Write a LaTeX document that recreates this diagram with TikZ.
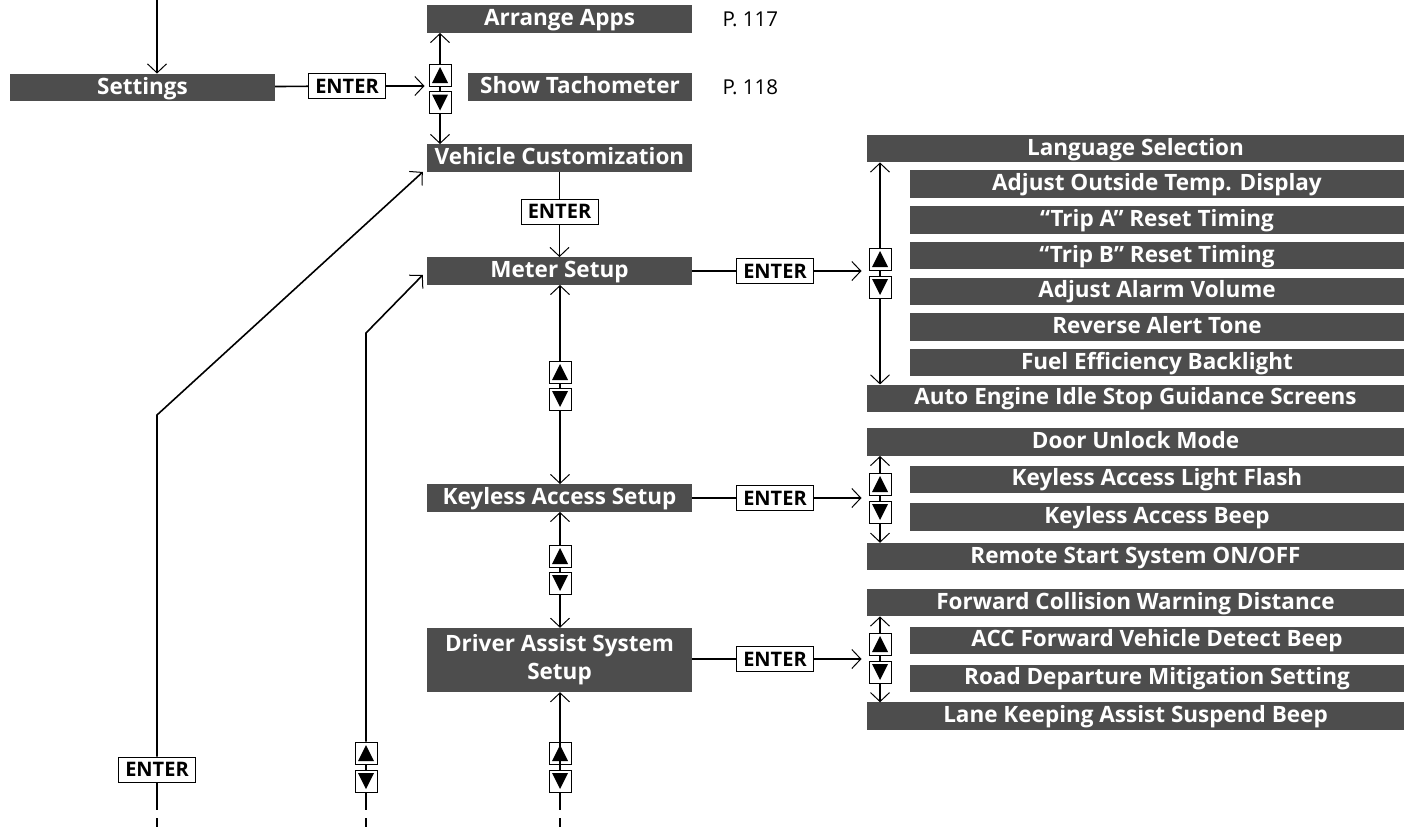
\documentclass[tikz,border=0pt]{standalone}
\usepackage{fontspec}
\setmainfont{Open Sans}
\usetikzlibrary{arrows.meta,positioning,calc}
\definecolor{panel}{HTML}{4D4D4D}
\tikzset{
  >={Straight Barb[length=9pt,width=19pt,line width=1pt]},
  link/.style={line width=1.6pt},
  flow/.style={->,line width=1.6pt},
  menu/.style={fill=panel,text=white,inner sep=0pt,minimum height=27.5pt,
    font=\fontsize{22.5}{28}\selectfont\bfseries},
  row/.style={menu,text height=17.5pt,text depth=4.5pt},
  main/.style={row,minimum width=265pt},
  wide/.style={row,minimum width=537pt},
  item/.style={row,minimum width=494pt},
  enterkey/.style={draw,line width=1pt,fill=white,inner sep=0pt,
    minimum width=77pt,minimum height=25pt,font=\fontsize{20}{22}\selectfont\bfseries},
  keybox/.style={draw,line width=1pt,fill=white,minimum size=22pt,inner sep=0pt},
  upkey/.style={keybox,path picture={
    \fill[black] ([shift={(3pt,3pt)}]path picture bounding box.south west)
      -- ([shift={(-3pt,3pt)}]path picture bounding box.south east)
      -- ([shift={(0pt,-3pt)}]path picture bounding box.north) -- cycle;}},
  downkey/.style={keybox,path picture={
    \fill[black] ([shift={(3pt,-3pt)}]path picture bounding box.north west)
      -- ([shift={(-3pt,-3pt)}]path picture bounding box.north east)
      -- ([shift={(0pt,3pt)}]path picture bounding box.south) -- cycle;}},
  pageref/.style={anchor=west,font=\fontsize{20.5}{24}\selectfont}
}

\begin{document}
\begin{tikzpicture}[x=1pt,y=-1pt]
  \useasboundingbox (0,0) rectangle (1411,827);

  % top level
  \node[row,minimum width=265pt] (settings) at (142.5,87.5) {Settings};
  \node[enterkey] (ent1) at (347,86) {ENTER};
  \node[main] (arrange) at (559.5,19) {Arrange Apps};
  \node[row,minimum width=224pt] (tacho) at (580,87) {Show Tachometer};
  \node[pageref] (p117) at (719,19) {P. 117};
  \node[pageref] (p118) at (719,87) {P. 118};
  \node[upkey] (up1) at (440,75) {};
  \node[downkey] (dn1) at (440,102.5) {};
  \node[main] (vehicle) at (559.5,158) {Vehicle Customization};
  \node[enterkey] (ent2) at (559.5,211.5) {ENTER};

  % meter setup
  \node[main] (meter) at (559.5,271) {Meter Setup};
  \node[enterkey] (ent3) at (775,271) {ENTER};
  \node[upkey] (up2) at (880,259) {};
  \node[downkey] (dn2) at (880,287) {};
  \node[wide] (lang) at (1135.5,148.5) {Language Selection};
  \begin{scope}[node distance=7.8pt]
    \node[item,below=of lang.south east,anchor=north east] (temp) {Adjust Outside Temp. Display};
    \node[item,below=of temp] (tripa) {“Trip A” Reset Timing};
    \node[item,below=of tripa] (tripb) {“Trip B” Reset Timing};
    \node[item,below=of tripb] (alarm) {Adjust Alarm Volume};
    \node[item,below=of alarm] (tone) {Reverse Alert Tone};
    \node[item,below=of tone] (backlight) {Fuel Efficiency Backlight};
    \node[wide,below=of backlight.south east,anchor=north east] (idle) {Auto Engine Idle Stop Guidance Screens};
  \end{scope}
  \node[upkey] (up3) at (560,372) {};
  \node[downkey] (dn3) at (560,399) {};

  % keyless access setup
  \node[main] (keyless) at (559.5,498) {Keyless Access Setup};
  \node[enterkey] (ent4) at (775,498) {ENTER};
  \node[upkey] (up4) at (880,484) {};
  \node[downkey] (dn4) at (880,512) {};
  \node[wide] (door) at (1135.5,442) {Door Unlock Mode};
  \begin{scope}[node distance=9.5pt]
    \node[item,below=of door.south east,anchor=north east] (flash) {Keyless Access Light Flash};
    \node[item,below=of flash] (beep) {Keyless Access Beep};
    \node[wide,below=12pt of beep.south east,anchor=north east] (remote) {Remote Start System ON/OFF};
  \end{scope}
  \node[upkey] (up5) at (560,556) {};
  \node[downkey] (dn5) at (560,583) {};

  % driver assist system setup
  \node[menu,minimum width=265pt,minimum height=64pt,align=center] (driver) at (559.5,660) {Driver Assist System\\Setup};
  \node[enterkey] (ent5) at (775,659) {ENTER};
  \node[upkey] (up6) at (880,644) {};
  \node[downkey] (dn6) at (880,672) {};
  \node[wide] (fcw) at (1135.5,602.5) {Forward Collision Warning Distance};
  \begin{scope}[node distance=10pt]
    \node[item,below=of fcw.south east,anchor=north east] (acc) {ACC Forward Vehicle Detect Beep};
    \node[item,below=of acc] (road) {Road Departure Mitigation Setting};
    \node[wide,below=of road.south east,anchor=north east] (lane) {Lane Keeping Assist Suspend Beep};
  \end{scope}

  % bottom returns
  \node[enterkey] (ent6) at (157,769.5) {ENTER};
  \node[upkey] (up7) at (366,753) {};
  \node[downkey] (dn7) at (366,781) {};
  \node[upkey] (up8) at (560,753) {};
  \node[downkey] (dn8) at (560,781) {};
  \coordinate (top) at (157,0);
  \coordinate (bend1) at (157,415);
  \coordinate (bend2) at (366,333);
  \coordinate (end1) at (157,810);
  \coordinate (end2) at (366,810);
  \coordinate (end3) at (560,810);

  % connectors
  \draw[flow] (top) -- (top |- settings.north);
  \draw[link] (settings) -- (ent1);
  \draw[flow,shorten >=4pt] (ent1) -- (ent1 -| up1.west);
  \draw[flow] (up1) -- (up1 |- arrange.south);
  \draw[link] (up1) -- (dn1);
  \draw[flow] (dn1) -- (dn1 |- vehicle.north);
  \draw[link] (vehicle) -- (ent2);
  \draw[flow] (ent2) -- (meter);

  \draw[link] (meter) -- (ent3);
  \draw[flow,shorten >=7pt] (ent3) -- (ent3 -| up2.west);
  \draw[flow] (up2) -- (up2 |- lang.south);
  \draw[link] (up2) -- (dn2);
  \draw[flow] (dn2) -- (dn2 |- idle.north);
  \draw[flow] (up3) -- (up3 |- meter.south);
  \draw[link] (up3) -- (dn3);
  \draw[flow] (dn3) -- (dn3 |- keyless.north);

  \draw[link] (keyless) -- (ent4);
  \draw[flow,shorten >=7pt] (ent4) -- (ent4 -| up4.west);
  \draw[flow] (up4) -- (up4 |- door.south);
  \draw[link] (up4) -- (dn4);
  \draw[flow] (dn4) -- (dn4 |- remote.north);
  \draw[flow] (up5) -- (up5 |- keyless.south);
  \draw[link] (up5) -- (dn5);
  \draw[flow] (dn5) -- (dn5 |- driver.north);

  \draw[link] (driver.east |- ent5) -- (ent5);
  \draw[flow,shorten >=7pt] (ent5) -- (ent5 -| up6.west);
  \draw[flow] (up6) -- (up6 |- fcw.south);
  \draw[link] (up6) -- (dn6);
  \draw[flow] (dn6) -- (dn6 |- lane.north);

  \draw[flow] (ent6) -- (bend1) -- ($(vehicle.south west)+(-4,0)$);
  \draw[link] (ent6) -- (end1);
  \draw[flow] (up7) -- (bend2) -- ($(meter.south west)+(-4,-10)$);
  \draw[link] (up7) -- (dn7);
  \draw[link] (dn7) -- (end2);
  \draw[flow] (dn8) -- (up8.north |- driver.south);
  \draw[link] (dn8) -- (end3);
  \foreach \c in {157,366,560}
    \draw[link] (\c,818) -- (\c,827);
\end{tikzpicture}
\end{document}
